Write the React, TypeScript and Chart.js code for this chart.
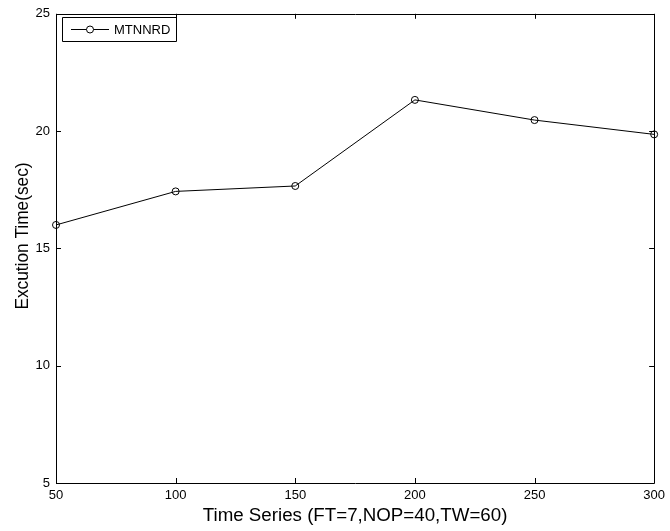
import React, { useEffect, useRef } from 'react';
import { Chart, registerables } from 'chart.js';

Chart.register(...registerables);

const xValues = [50, 100, 150, 200, 250, 300];
const mtnnrdValues = [16.0, 17.43, 17.66, 21.33, 20.47, 19.86];
const xTicks = [50, 100, 150, 200, 250, 300];
const yTicks = [5, 10, 15, 20, 25];
const seriesLabel = 'MTNNRD';
const xTitle = 'Time Series (FT=7,NOP=40,TW=60)';
const yTitle = 'Excution Time(sec)';

const FONT = 'Arial, "Liberation Sans", Helvetica, sans-serif';

const framePlugin = {
  id: 'matlabFrame',
  afterDraw(chart: any) {
    const { ctx, chartArea } = chart;
    const { left, right, top, bottom } = chartArea;
    const xs = chart.scales.x;
    const ys = chart.scales.y;
    ctx.save();
    ctx.strokeStyle = '#000';
    ctx.lineWidth = 1;
    // frame
    ctx.beginPath();
    ctx.rect(Math.round(left) + 0.5, Math.round(top) + 0.5, Math.round(right - left), Math.round(bottom - top));
    ctx.stroke();
    // inward ticks
    const tl = 5;
    ctx.beginPath();
    xTicks.forEach((v) => {
      const px = Math.round(xs.getPixelForValue(v)) + 0.5;
      ctx.moveTo(px, bottom);
      ctx.lineTo(px, bottom - tl);
      ctx.moveTo(px, top);
      ctx.lineTo(px, top + tl);
    });
    yTicks.forEach((v) => {
      const py = Math.round(ys.getPixelForValue(v)) + 0.5;
      ctx.moveTo(left, py);
      ctx.lineTo(left + tl, py);
      ctx.moveTo(right, py);
      ctx.lineTo(right - tl, py);
    });
    ctx.stroke();

    // legend
    const lx = left + 6, ly = top + 3, lw = 114, lh = 24;
    ctx.fillStyle = '#fff';
    ctx.fillRect(lx, ly, lw, lh);
    ctx.beginPath();
    ctx.rect(Math.round(lx) + 0.5, Math.round(ly) + 0.5, lw, lh);
    ctx.stroke();
    const cy = Math.round(ly + lh / 2) + 0.5;
    ctx.beginPath();
    ctx.moveTo(lx + 9, cy);
    ctx.lineTo(lx + 47, cy);
    ctx.stroke();
    ctx.beginPath();
    ctx.arc(lx + 28, cy, 3.5, 0, Math.PI * 2);
    ctx.fillStyle = '#fff';
    ctx.fill();
    ctx.stroke();
    ctx.fillStyle = '#000';
    ctx.font = `13px ${FONT}`;
    ctx.textAlign = 'left';
    ctx.textBaseline = 'middle';
    ctx.fillText(chart.data.datasets[0].label, lx + 52, cy + 0.5);

    // axis titles
    ctx.save();
    ctx.font = `18px ${FONT}`;
    ctx.textAlign = 'center';
    ctx.textBaseline = 'alphabetic';
    ctx.translate((left + right) / 2, 521);
    ctx.scale(1.04, 1);
    ctx.fillText(xTitle, 0, 0);
    ctx.restore();

    ctx.save();
    ctx.font = `18px ${FONT}`;
    ctx.textAlign = 'center';
    ctx.textBaseline = 'alphabetic';
    ctx.translate(28, 236);
    ctx.rotate(-Math.PI / 2);
    ctx.scale(0.96, 1);
    ctx.fillText(yTitle, 0, 0);
    ctx.restore();

    ctx.restore();
  },
};

export default function App() {
  const canvasRef = useRef<HTMLCanvasElement | null>(null);

  useEffect(() => {
    if (!canvasRef.current) return;
    const chart = new Chart(canvasRef.current, {
      type: 'line',
      data: {
        datasets: [
          {
            label: seriesLabel,
            data: xValues.map((x, i) => ({ x, y: mtnnrdValues[i] })),
            borderColor: '#000',
            borderWidth: 1,
            pointRadius: 3.5,
            pointBorderWidth: 1,
            pointBorderColor: '#000',
            pointBackgroundColor: 'rgba(0,0,0,0)',
            pointStyle: 'circle',
            tension: 0,
            fill: false,
            clip: false as any,
          },
        ],
      },
      options: {
        animation: false,
        responsive: true,
        maintainAspectRatio: false,
        layout: { padding: { left: 0, right: 12, top: 10, bottom: 0 } },
        plugins: {
          legend: { display: false },
          tooltip: { enabled: false },
          title: { display: false },
        },
        scales: {
          x: {
            type: 'linear',
            min: 50,
            max: 300,
            grid: { display: false, drawTicks: false },
            border: { display: false },
            afterBuildTicks: (s: any) => {
              s.ticks = xTicks.map((v) => ({ value: v }));
            },
            afterFit: (s: any) => {
              s.height = 48;
            },
            ticks: {
              autoSkip: false,
              maxRotation: 0,
              padding: 5,
              color: '#000',
              font: { family: FONT, size: 13 },
            },
          },
          y: {
            type: 'linear',
            min: 5,
            max: 25,
            grid: { display: false, drawTicks: false },
            border: { display: false },
            afterBuildTicks: (s: any) => {
              s.ticks = yTicks.map((v) => ({ value: v }));
            },
            afterFit: (s: any) => {
              s.width = 56;
            },
            ticks: {
              autoSkip: false,
              padding: 6,
              color: '#000',
              font: { family: FONT, size: 13 },
            },
          },
        },
      },
      plugins: [framePlugin],
    });
    return () => chart.destroy();
  }, []);

  return (
    <div style={{ position: 'fixed', left: 0, top: 0, width: 670, height: 531, background: '#fff' }}>
      <canvas ref={canvasRef} />
    </div>
  );
}
